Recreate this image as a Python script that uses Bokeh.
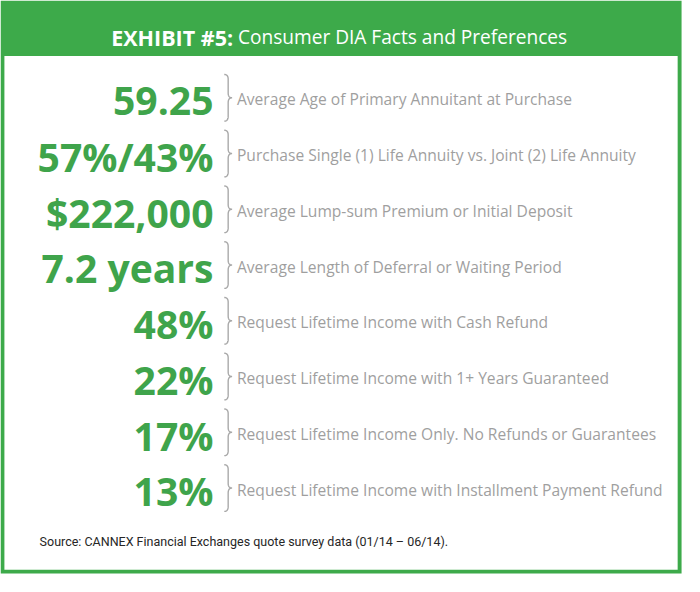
import numpy as np
from bokeh.plotting import figure
from bokeh.models import ColumnDataSource, Range1d
from bokeh.core.properties import value
from bokeh.embed import file_html
from bokeh.resources import INLINE

# ---- data ----
title_bold = "EXHIBIT #5:"
title_rest = "Consumer DIA Facts and Preferences"
facts = ["59.25", "57%/43%", "$222,000", "7.2 years", "48%", "22%", "17%", "13%"]
descriptions = [
    "Average Age of Primary Annuitant at Purchase",
    "Purchase Single (1) Life Annuity vs. Joint (2) Life Annuity",
    "Average Lump-sum Premium or Initial Deposit",
    "Average Length of Deferral or Waiting Period",
    "Request Lifetime Income with Cash Refund",
    "Request Lifetime Income with 1+ Years Guaranteed",
    "Request Lifetime Income Only. No Refunds or Guarantees",
    "Request Lifetime Income with Installment Payment Refund",
]
source_note = "Source: CANNEX Financial Exchanges quote survey data (01/14 \u2013 06/14)."

# ---- styling / layout ----
GREEN = "#3daa4a"
NUM_GREEN = "#3fa44b"
DESC_GRAY = "#9f9f9f"
BRACE_GRAY = "#a9a9a9"
W, H = 684, 576
S = W / 700.0  # font scale (layout is in 700x592 reference units)

def px(v):
    return f"{v * S:.1f}px"

p = figure(width=W, height=H, x_range=Range1d(0, 700), y_range=Range1d(592, 0),
           output_backend="svg", toolbar_location=None, min_border=0,
           x_axis_location=None, y_axis_location=None)
p.grid.visible = False
p.outline_line_color = None
p.background_fill_color = "white"
p.border_fill_color = "white"

# frame and header band
p.quad(left=[0], right=[697], top=[0], bottom=[589], fill_color=GREEN, line_color=None)
p.quad(left=[4], right=[693], top=[57], bottom=[585], fill_color="white", line_color=None)

# title
p.text(x=[238], y=[38], text=[title_bold], text_align="right", text_baseline="alphabetic",
       text_font=value("Open Sans"), text_font_style="bold", text_font_size=px(22),
       text_color="white")
p.text(x=[243], y=[38], text=[title_rest], text_align="left", text_baseline="alphabetic",
       text_font=value("Open Sans"), text_font_size=px(19.5), text_color="white")

# rows
n = len(facts)
row_y = 100 + np.arange(n) * 57.3
src = ColumnDataSource(dict(fact=facts, desc=descriptions,
                            fy=row_y + 3, dy=row_y + 1.5))
p.text(x=218, y="fy", text="fact", source=src, text_align="right", text_baseline="alphabetic",
       text_font=value("Open Sans"), text_font_style="bold", text_font_size=px(40),
       text_color=NUM_GREEN)
p.text(x=242, y="dy", text="desc", source=src, text_align="left", text_baseline="alphabetic",
       text_font=value("Open Sans"), text_font_size=px(16), text_color=DESC_GRAY)

# curly braces
def brace(yc, x0=229.0, w=8.0, half=24.0):
    def qb(p0, p1, p2, k=12):
        t = np.linspace(0, 1, k)[:, None]
        return (1 - t) ** 2 * np.array(p0) + 2 * (1 - t) * t * np.array(p1) + t ** 2 * np.array(p2)
    xm = x0 + w * 0.5
    r = 5.0
    pts = [
        qb((x0, yc - half), (xm, yc - half), (xm, yc - half + r)),
        qb((xm, yc - r), (xm, yc), (x0 + w, yc)),
        qb((x0 + w, yc), (xm, yc), (xm, yc + r)),
        qb((xm, yc + half - r), (xm, yc + half), (x0, yc + half)),
    ]
    arr = np.vstack(pts)
    return list(arr[:, 0]), list(arr[:, 1])

bx, by = zip(*[brace(y) for y in row_y])
p.multi_line(xs=list(bx), ys=list(by), line_color=BRACE_GRAY, line_width=1.4)

# source note
p.text(x=[40], y=[556], text=[source_note], text_align="left", text_baseline="alphabetic",
       text_font=value("Roboto"), text_font_size=px(12.8), text_color="#262626")

open("out.html", "w").write(file_html(p, INLINE))
